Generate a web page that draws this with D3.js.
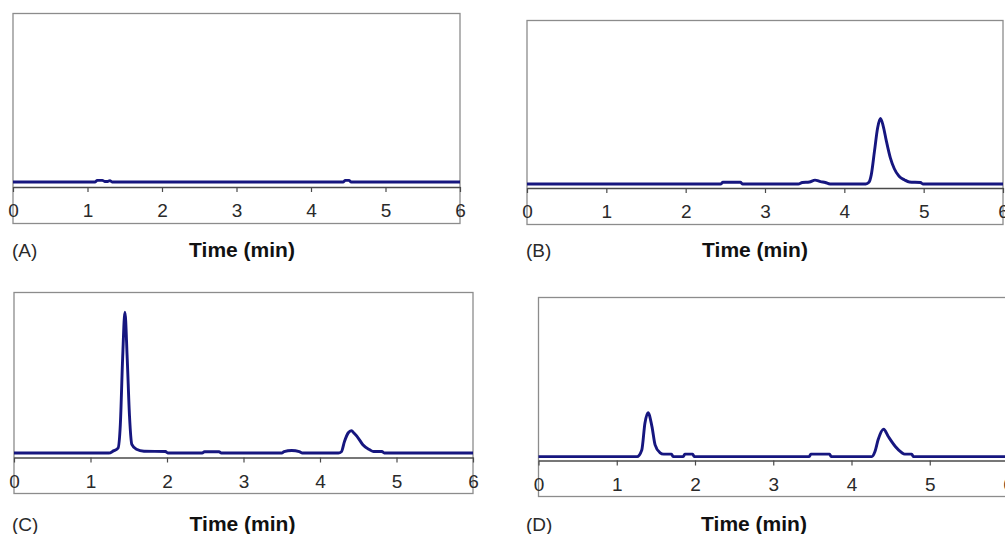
<!DOCTYPE html>
<html>
<head>
<meta charset="utf-8">
<script src="https://cdn.jsdelivr.net/npm/d3@7"></script>
<style>
  body { margin: 0; background: #fff; }
  svg { display: block; }
  .tick-label { font-family: "Liberation Sans", Arial, sans-serif; font-size: 19px; fill: #2a2a2a; }
  .panel-tag { font-family: "Liberation Sans", Arial, sans-serif; font-size: 19px; fill: #2a2a2a; }
  .axis-title { font-family: "Liberation Sans", Arial, sans-serif; font-size: 21px; font-weight: bold; fill: #111; }
</style>
</head>
<body>
<svg id="chart" width="1005" height="534"></svg>
<script>
// time ticks (min)
const timeTicks = [0, 1, 2, 3, 4, 5, 6];
const panelTags = ['(A)', '(B)', '(C)', '(D)'];
const axisTitle = 'Time (min)';

// detector response, [time, signal]
const seriesA = [
  [0, 2.9], [1.10, 2.9], [1.13, 3.8], [1.20, 3.8], [1.23, 3.2], [1.27, 3.2],
  [1.30, 3.7], [1.33, 2.9], [4.43, 2.9], [4.46, 3.8], [4.51, 3.8], [4.54, 2.9], [6, 2.9],
];
const seriesB = [
  [0, 2.4], [2.44, 2.4], [2.47, 3.4], [2.69, 3.4], [2.72, 2.4], [3.42, 2.4],
  [3.47, 3.3], [3.56, 3.6], [3.63, 4.7], [3.70, 3.8], [3.76, 3.3], [3.82, 2.4],
  [4.27, 2.4], [4.31, 3.4], [4.34, 8], [4.38, 22], [4.42, 36], [4.455, 41.5],
  [4.49, 37], [4.53, 28], [4.58, 18], [4.63, 11.5], [4.69, 7], [4.76, 4.8],
  [4.82, 3.6], [4.96, 3.3], [4.99, 2.4], [6, 2.4],
];
const seriesC = [
  [0, 2.7], [1.24, 2.7], [1.30, 4.0], [1.36, 5.7], [1.39, 20], [1.42, 60],
  [1.45, 88], [1.48, 60], [1.51, 25], [1.54, 8], [1.60, 5], [1.70, 3.8],
  [1.98, 3.6], [2.01, 2.7], [2.46, 2.7], [2.49, 3.5], [2.68, 3.5], [2.71, 2.7],
  [3.50, 2.7], [3.53, 3.5], [3.63, 4.2], [3.73, 3.5], [3.77, 2.7], [4.24, 2.7],
  [4.28, 3.5], [4.32, 9.7], [4.37, 15], [4.41, 16.2], [4.45, 14.5], [4.50, 11.8],
  [4.56, 7.7], [4.65, 4.7], [4.70, 3.6], [4.81, 3.6], [4.84, 2.7], [6, 2.7],
];
const seriesD = [
  [0, 2.4], [1.26, 2.4], [1.32, 6.5], [1.36, 22.9], [1.40, 29.4], [1.45, 20.8],
  [1.49, 9.6], [1.55, 4.9], [1.60, 3.9], [1.70, 3.9], [1.72, 2.4], [1.85, 2.4],
  [1.87, 3.9], [1.97, 3.9], [1.99, 2.4], [3.46, 2.4], [3.48, 3.9], [3.72, 3.9],
  [3.74, 2.4], [4.26, 2.4], [4.30, 5.5], [4.34, 12.7], [4.41, 19.2], [4.47, 14.7],
  [4.56, 8.6], [4.64, 4.9], [4.68, 3.9], [4.77, 3.9], [4.79, 2.4], [6, 2.4],
];

const allSeries = [seriesA, seriesB, seriesC, seriesD];

// panel boxes in page pixels
const boxes = [
  { l: 13, r: 460, t: 13.5, axis: 187, b: 223.5, tagX: 12, titleX: 242, textY: 257 },
  { l: 527, r: 1003, t: 20.5, axis: 188, b: 224.5, tagX: 526, titleX: 755, textY: 257 },
  { l: 14, r: 473, t: 292.5, axis: 457.5, b: 493.5, tagX: 12, titleX: 242.5, textY: 531 },
  { l: 538.5, r: 1008, t: 297.5, axis: 460.5, b: 496.5, tagX: 526, titleX: 754, textY: 531 },
];

const svg = d3.select('#chart');

boxes.forEach((box, i) => {
  const x = d3.scaleLinear().domain([0, 6]).range([box.l, box.r]);
  const y = d3.scaleLinear().domain([0, 100]).range([box.axis, box.t]);

  const g = svg.append('g').attr('class', 'panel');

  g.append('rect')
    .attr('x', box.l)
    .attr('y', box.t)
    .attr('width', box.r - box.l)
    .attr('height', box.b - box.t)
    .attr('fill', 'none')
    .attr('stroke', '#8c8c8c')
    .attr('stroke-width', 1.3);

  const xAxis = d3.axisBottom(x)
    .tickValues(timeTicks)
    .tickFormat(d3.format('d'))
    .tickSizeInner(5)
    .tickSizeOuter(0)
    .tickPadding(12);

  const axisG = g.append('g')
    .attr('transform', `translate(0,${box.axis})`)
    .call(xAxis);

  axisG.attr('font-size', null).attr('font-family', null);
  axisG.select('.domain').attr('stroke', '#4a4a4a').attr('stroke-width', 1.4);
  axisG.selectAll('.tick line').attr('stroke', '#4a4a4a').attr('stroke-width', 1.2);
  axisG.selectAll('.tick text').attr('class', 'tick-label');

  const line = d3.line()
    .x((d) => x(d[0]))
    .y((d) => y(d[1]))
    .curve(d3.curveMonotoneX);

  g.append('path')
    .attr('d', line(allSeries[i]))
    .attr('fill', 'none')
    .attr('stroke', '#16167f')
    .attr('stroke-width', 2.9)
    .attr('stroke-linejoin', 'round');

  g.append('text')
    .attr('class', 'panel-tag')
    .attr('x', box.tagX)
    .attr('y', box.textY)
    .text(panelTags[i]);

  g.append('text')
    .attr('class', 'axis-title')
    .attr('x', box.titleX)
    .attr('y', box.textY)
    .attr('text-anchor', 'middle')
    .text(axisTitle);
});
</script>
</body>
</html>
